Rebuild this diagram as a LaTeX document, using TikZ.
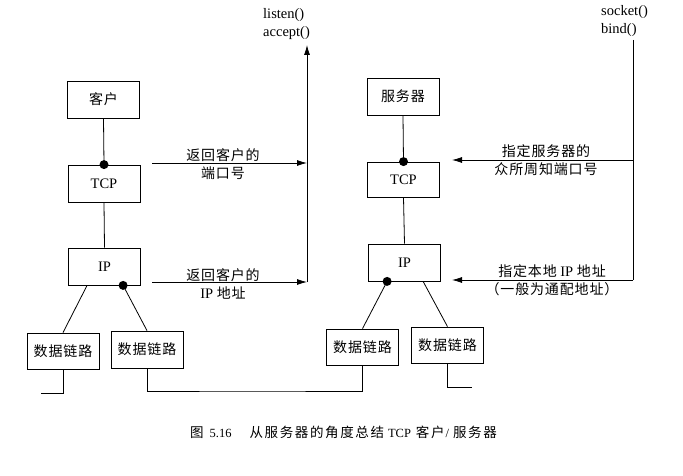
\documentclass[tikz,border=0pt]{standalone}
\usepackage{fontspec}
\setmainfont{Liberation Serif}
\newfontfamily\cjk[LetterSpace=6]{Noto Sans CJK SC}
\newfontfamily\cjkcap[LetterSpace=12]{Noto Sans CJK SC}
\usetikzlibrary{arrows.meta,calc}
\newcommand{\zh}[1]{{\cjk\fontsize{14}{18}\selectfont #1}}
\newcommand{\zc}[1]{{\cjkcap\fontsize{13.5}{14}\selectfont #1}}
\begin{document}
\begin{tikzpicture}[x=1pt,y=-1pt,
  box/.style={draw, line width=0.8pt, minimum width=72pt, minimum height=37pt, inner sep=0pt, font=\fontsize{14.5}{18}\selectfont},
  lbl/.style={inner sep=0pt, align=center, font=\fontsize{14.5}{18.5}\selectfont},
  wire/.style={line width=0.8pt},
  arr/.style={line width=0.8pt, -{Latex[length=10pt,width=6pt]}},
  dot/.style={circle, fill, inner sep=0pt, minimum size=9pt}]
\useasboundingbox (0,0) rectangle (683,476);

% client side
\node[box] (c) at (103.5,99.5) {\zh{客户}};
\node[box] (ctcp) at (104,183.5) {TCP};
\node[box] (cip) at (104.5,266.5) {IP};
\node[box, minimum height=36pt] (cdl1) at (63,351) {\zh{数据链路}};
\node[box] (cdl2) at (147,349.5) {\zh{数据链路}};

% server side
\node[box] (s) at (403,96.5) {\zh{服务器}};
\node[box, minimum height=35pt] (stcp) at (403.5,179.5) {TCP};
\node[box] (sip) at (404.5,262.5) {IP};
\node[box, minimum height=36pt] (sdl1) at (362.5,347) {\zh{数据链路}};
\node[box, minimum height=36pt] (sdl2) at (447.5,345) {\zh{数据链路}};

% stack wiring client
\draw[wire] (c.south) -- (ctcp.north);
\node[dot] (cd1) at (ctcp.north) {};
\draw[wire] (ctcp.south) -- (cip.north);
\coordinate (cipL) at ([xshift=19pt]cip.south west);
\node[dot] (cd2) at ([xshift=55pt]cip.south west) {};
\draw[wire] (cipL) -- (cdl1.north);
\draw[wire] (cd2.center) -- (cdl2.north);

% stack wiring server
\draw[wire] (s.south) -- (stcp.north);
\node[dot] (sd1) at (stcp.north) {};
\draw[wire] (stcp.south) -- (sip.north);
\node[dot] (sd2) at ([xshift=19pt]sip.south west) {};
\coordinate (sipR) at ([xshift=55pt]sip.south west);
\draw[wire] (sd2.center) -- (sdl1.north);
\draw[wire] (sipR) -- (sdl2.north);

% links below
\coordinate (lend) at (41,393);
\draw[wire] (cdl1.south) |- (lend);
\coordinate (bus) at (250,391);
\draw[wire] (cdl2.south) |- (bus) -| (sdl1.south);
\coordinate (rend) at (472,387);
\draw[wire] (sdl2.south) |- (rend);

% left vertical (listen/accept)
\coordinate (ltop) at (307,45);
\coordinate (lbot) at (307,282);
\draw[arr] (lbot) -- (ltop);
\coordinate (a1s) at (152,163);
\draw[arr] (a1s) -- (a1s -| ltop);
\coordinate (a2s) at (152,282);
\draw[arr] (a2s) -- (lbot);
\node[lbl, anchor=west, align=left] (la) at (263,24) {listen()\\accept()};
\node[lbl] (l1) at (223,164) {\zh{返回客户的}\\\zh{端口号}};
\node[lbl] (l2) at (223,284) {\zh{返回客户的}\\IP \zh{地址}};

% right vertical (socket/bind)
\coordinate (rtop) at (633,40);
\coordinate (rbot) at (633,280);
\coordinate (b1e) at (452,160);
\coordinate (b2e) at (452,280);
\draw[wire] (rtop) -- (rbot);
\draw[arr] (b1e -| rtop) -- (b1e);
\draw[arr] (rbot) -- (b2e);
\node[lbl, anchor=west, align=left] (sb) at (601,21) {socket()\\bind()};
\node[lbl] (r1) at (546,160) {\zh{指定服务器的}\\\zh{众所周知端口号}};
\node[lbl] (r2) at (552,280) {\zh{指定本地} IP \zh{地址}\\\zh{（一般为通配地址）}};

% caption
\node[inner sep=0pt, anchor=west, font=\fontsize{12.5}{14}\selectfont] (cap) at (190,432)
  {\zc{图}\hspace{6pt}5.16\hspace{18pt}\zc{从服务器的角度总结}\hspace{4pt}TCP\hspace{5pt}\zc{客户}\hspace{1pt}/\hspace{4pt}\zc{服务器}};
\end{tikzpicture}
\end{document}
